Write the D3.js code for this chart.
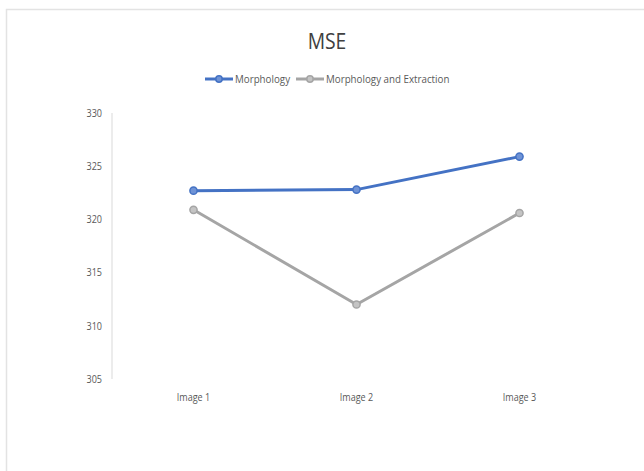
<!DOCTYPE html>
<html><head><meta charset="utf-8">
<script src="https://cdn.jsdelivr.net/npm/d3@7/dist/d3.min.js"></script>
<style>body{margin:0;background:#fff}svg{display:block}</style>
</head><body>
<svg id="c" width="644" height="471"></svg>
<script>
const categories = ["Image 1", "Image 2", "Image 3"];
const morphology = [322.7, 322.8, 325.9];
const morphologyExtraction = [320.9, 312.0, 320.6];
const yTicks = [305, 310, 315, 320, 325, 330];
const seriesNames = ["Morphology", "Morphology and Extraction"];
const colors = ["#4472C4", "#A5A5A5"];
const fills = ["#6f93d6", "#c4c4c4"];

const font = "'Open Sans',sans-serif";
const svg = d3.select("#c");
function condense(sel, k) {
  sel.each(function () {
    const w = this.getComputedTextLength();
    d3.select(this).attr("textLength", w * k).attr("lengthAdjust", "spacingAndGlyphs");
  });
}
svg.append("rect").attr("x", 6.5).attr("y", 9.5).attr("width", 660).attr("height", 480)
  .attr("fill", "#fff").attr("stroke", "#e3e3e3").attr("stroke-width", 1.5);

const x = d3.scaleBand().domain(categories).range([112, 601]);
const y = d3.scaleLinear().domain([305, 330]).range([379, 113]);

svg.append("line").attr("x1", 112).attr("x2", 112).attr("y1", y(330)).attr("y2", y(305))
  .attr("stroke", "#d9d9d9").attr("stroke-width", 1);

const yAxis = d3.axisLeft(y).tickValues(yTicks).tickSize(0).tickPadding(10);
const gy = svg.append("g").attr("transform", "translate(112,0)").call(yAxis);
gy.select(".domain").remove();
gy.selectAll("text").attr("font-family", font).attr("font-size", 10.5).attr("fill", "#595959").call(condense, 0.86);

const xAxis = d3.axisBottom(x).tickSize(0).tickPadding(0);
const gx = svg.append("g").attr("transform", "translate(0,394)").call(xAxis);
gx.select(".domain").remove();
gx.selectAll("text").attr("font-family", font).attr("font-size", 10.5).attr("fill", "#595959").call(condense, 0.86);

const series = [morphologyExtraction, morphology];
const sIdx = [1, 0];
const line = d3.line().x((d, i) => x(categories[i]) + x.bandwidth() / 2).y(d => y(d));
series.forEach((vals, k) => {
  const i = sIdx[k];
  svg.append("path").datum(vals).attr("d", line).attr("fill", "none")
    .attr("stroke", colors[i]).attr("stroke-width", 3).attr("stroke-linejoin", "round");
  svg.selectAll(null).data(vals).enter().append("circle")
    .attr("cx", (d, j) => x(categories[j]) + x.bandwidth() / 2).attr("cy", d => y(d))
    .attr("r", 3.6).attr("fill", fills[i]).attr("stroke", colors[i]).attr("stroke-width", 1.5);
});

svg.append("text").attr("x", 327).attr("y", 49).attr("text-anchor", "middle")
  .attr("font-family", font).attr("font-size", 21).attr("fill", "#404040").text("MSE")
  .call(condense, 0.92);

const legendX = [205, 296];
seriesNames.forEach((n, i) => {
  const lx = legendX[i], ly = 79;
  svg.append("line").attr("x1", lx).attr("x2", lx + 28).attr("y1", ly).attr("y2", ly)
    .attr("stroke", colors[i]).attr("stroke-width", 3);
  svg.append("circle").attr("cx", lx + 14).attr("cy", ly).attr("r", 3.2)
    .attr("fill", fills[i]).attr("stroke", colors[i]).attr("stroke-width", 1.5);
  svg.append("text").attr("x", lx + 30).attr("y", ly + 3.8).attr("font-family", font)
    .attr("font-size", 10.5).attr("fill", "#595959").text(n).call(condense, 0.93);
});
</script>
</body></html>
